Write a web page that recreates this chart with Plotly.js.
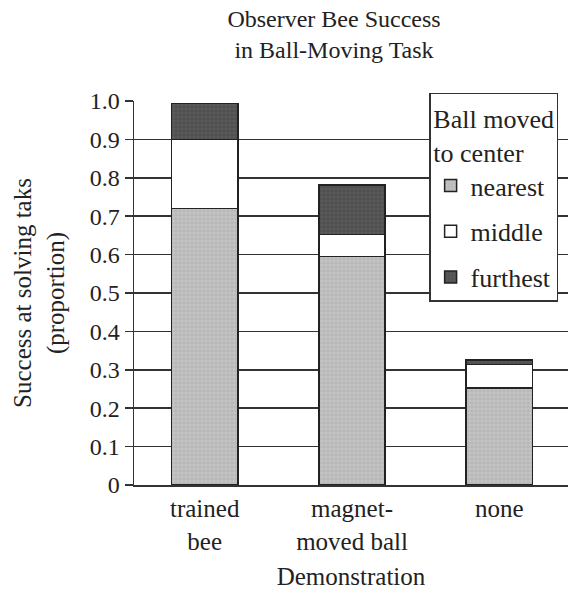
<!DOCTYPE html>
<html>
<head>
<meta charset="utf-8">
<script src="https://cdn.plot.ly/plotly-3.0.1.min.js"></script>
<style>html,body{margin:0;padding:0;background:#fff;}#chart{width:570px;height:592px;}</style>
</head>
<body>
<div id="chart"></div>
<script>
const categories = ["trained<br>bee", "magnet-<br>moved ball", "none"];
const nearest = [0.72, 0.595, 0.252];
const middle = [0.18, 0.058, 0.062];
const furthest = [0.093, 0.128, 0.012];
const seriesNames = ["nearest", "middle", "furthest"];
const yTicks = [0, 0.1, 0.2, 0.3, 0.4, 0.5, 0.6, 0.7, 0.8, 0.9, 1.0];
const yTickText = ["0", "0.1", "0.2", "0.3", "0.4", "0.5", "0.6", "0.7", "0.8", "0.9", "1.0"];

const FONT = "Liberation Serif, DejaVu Serif, serif";
const xIdx = categories.map((c, i) => i);

function mk(name, vals, bg, fg, grp) {
  return {
    type: "bar", name: name, x: xIdx, y: vals, width: 0.45,
    legendgroup: grp,
    marker: {
      color: bg,
      line: {color: "#222", width: 1.5},
      pattern: fg ? {shape: "+", bgcolor: bg, fgcolor: fg, size: 4, solidity: 0.25} : undefined
    },
    hoverinfo: "skip"
  };
}

const data = [
  mk(seriesNames[0], nearest, "#c4c4c4", "#a8a8a8", "a"),
  mk(seriesNames[1], middle, "#ffffff", null, "b"),
  mk(seriesNames[2], furthest, "#5a5a5a", "#444444", "c")
];

const layout = {
  width: 570, height: 592,
  margin: {l: 134, r: 2, t: 101, b: 107},
  paper_bgcolor: "#fff", plot_bgcolor: "#fff",
  font: {family: FONT, color: "#222", size: 24},
  barmode: "stack",
  bargap: 0,
  showlegend: true,
  title: {
    text: "Observer Bee Success<br>in Ball-Moving Task",
    font: {family: FONT, size: 24, color: "#222"},
    xref: "container", x: 0.586, xanchor: "center",
    yref: "container", y: 0.955, yanchor: "top"
  },
  xaxis: {
    range: [-0.48, 2.466],
    tickmode: "array", tickvals: xIdx, ticktext: categories,
    tickfont: {family: FONT, size: 25, color: "#222"},
    showgrid: false, zeroline: false,
    showline: true, linecolor: "#333", linewidth: 2,
    ticks: "", fixedrange: true,
    title: {text: "Demonstration", font: {family: FONT, size: 25, color: "#222"}, standoff: 14}
  },
  yaxis: {
    range: [0, 1.0],
    tickmode: "array", tickvals: yTicks, ticktext: yTickText,
    tickfont: {family: FONT, size: 24, color: "#222"},
    showgrid: true, gridcolor: "#333", gridwidth: 1.5,
    zeroline: false,
    showline: true, linecolor: "#333", linewidth: 1.5,
    ticks: "outside", ticklen: 8, tickcolor: "#333", tickwidth: 1.5,
    title: {text: "Success at solving taks<br>(proportion)", font: {family: FONT, size: 25, color: "#222"}, standoff: 18}
  },
  legend: {
    x: 0.68, xanchor: "left", y: 1.021, yanchor: "top",
    bgcolor: "#fff", bordercolor: "#333", borderwidth: 1.5,
    font: {family: FONT, size: 26, color: "#222"},
    title: {text: "Ball moved<br>to center", side: "top center", font: {family: FONT, size: 26, color: "#222"}},
    traceorder: "grouped", tracegroupgap: 9,
    itemclick: false, itemdoubleclick: false
  }
};

Plotly.newPlot("chart", data, layout, {displayModeBar: false, staticPlot: true});
</script>
</body>
</html>
